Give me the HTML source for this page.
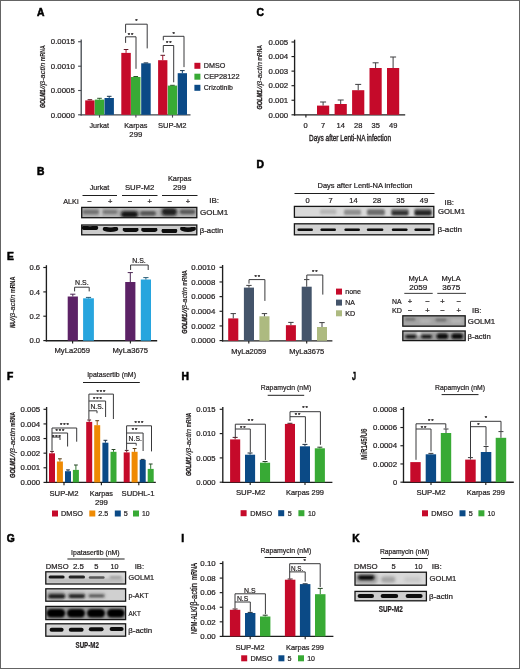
<!DOCTYPE html>
<html lang="en"><head><meta charset="utf-8"><title>Figure</title>
<style>
html,body{margin:0;padding:0;background:#fff;}
body{width:520px;height:669px;overflow:hidden;}
svg{display:block;font-family:"Liberation Sans", sans-serif;fill:#231f20;}
text{stroke:#231f20;stroke-width:0.22px;}
</style></head><body>
<svg width="520" height="669" viewBox="0 0 520 669">
<defs>
<clipPath id="c1"><rect x="81.70" y="207.40" width="115.10" height="10.30"/></clipPath>
<clipPath id="c2"><rect x="81.70" y="225.00" width="115.10" height="9.80"/></clipPath>
<clipPath id="c3"><rect x="294.40" y="206.40" width="139.40" height="10.90"/></clipPath>
<clipPath id="c4"><rect x="294.40" y="223.80" width="139.40" height="11.00"/></clipPath>
<clipPath id="c5"><rect x="402.80" y="315.80" width="62.40" height="10.40"/></clipPath>
<clipPath id="c6"><rect x="402.80" y="331.00" width="62.40" height="9.60"/></clipPath>
<clipPath id="c7"><rect x="45.80" y="571.80" width="79.80" height="12.20"/></clipPath>
<clipPath id="c8"><rect x="45.80" y="588.80" width="79.80" height="12.40"/></clipPath>
<clipPath id="c9"><rect x="45.80" y="606.40" width="79.80" height="13.20"/></clipPath>
<clipPath id="c10"><rect x="45.80" y="623.80" width="79.80" height="12.40"/></clipPath>
<clipPath id="c11"><rect x="355.00" y="572.20" width="71.40" height="13.00"/></clipPath>
<clipPath id="c12"><rect x="355.00" y="591.40" width="71.40" height="9.40"/></clipPath>
<filter id="b1" x="-40%" y="-150%" width="180%" height="400%"><feGaussianBlur stdDeviation="0.9"/></filter>
<filter id="b2" x="-40%" y="-150%" width="180%" height="400%"><feGaussianBlur stdDeviation="1.6"/></filter>
<filter id="b0" x="-40%" y="-150%" width="180%" height="400%"><feGaussianBlur stdDeviation="0.55"/></filter>
<filter id="b3" x="-40%" y="-150%" width="180%" height="400%"><feGaussianBlur stdDeviation="2.6"/></filter>
</defs>
<rect x="0" y="0" width="520" height="669" fill="#ffffff"/>
<text x="37.10" y="15.60" font-size="10.3" font-weight="bold" fill="#000" style="stroke:#000;stroke-width:0.55px">A</text>
<text x="256.40" y="15.80" font-size="10.3" font-weight="bold" fill="#000" style="stroke:#000;stroke-width:0.55px">C</text>
<text x="37.10" y="174.50" font-size="10.3" font-weight="bold" fill="#000" style="stroke:#000;stroke-width:0.55px">B</text>
<text x="256.40" y="167.70" font-size="10.3" font-weight="bold" fill="#000" style="stroke:#000;stroke-width:0.55px">D</text>
<text x="7.00" y="259.60" font-size="10.3" font-weight="bold" fill="#000" style="stroke:#000;stroke-width:0.55px">E</text>
<text x="7.00" y="380.00" font-size="10.3" font-weight="bold" fill="#000" style="stroke:#000;stroke-width:0.55px">F</text>
<text x="6.80" y="542.40" font-size="10.3" font-weight="bold" fill="#000" style="stroke:#000;stroke-width:0.55px">G</text>
<text x="181.40" y="380.00" font-size="10.3" font-weight="bold" fill="#000" style="stroke:#000;stroke-width:0.55px">H</text>
<text x="181.20" y="542.40" font-size="10.3" font-weight="bold" fill="#000" style="stroke:#000;stroke-width:0.55px">I</text>
<text x="351.90" y="379.80" font-size="10.3" textLength="4.00" lengthAdjust="spacingAndGlyphs" font-weight="bold" fill="#000" style="stroke:#000;stroke-width:0.45px">J</text>
<text x="352.20" y="542.40" font-size="10.3" font-weight="bold" fill="#000" style="stroke:#000;stroke-width:0.55px">K</text>
<path d="M81.20 39.45V115.45" stroke="#42474d" stroke-width="1.3" fill="none"/>
<path d="M80.55 114.80H190.50" stroke="#42474d" stroke-width="1.3" fill="none"/>
<path d="M78.10 41.75H81.20" stroke="#42474d" stroke-width="1.105" fill="none"/>
<text x="74.80" y="44.45" font-size="7.5" text-anchor="end" textLength="24.00" lengthAdjust="spacingAndGlyphs">0.0015</text>
<path d="M78.10 66.20H81.20" stroke="#42474d" stroke-width="1.105" fill="none"/>
<text x="74.80" y="68.90" font-size="7.5" text-anchor="end" textLength="24.00" lengthAdjust="spacingAndGlyphs">0.0010</text>
<path d="M78.10 90.50H81.20" stroke="#42474d" stroke-width="1.105" fill="none"/>
<text x="74.80" y="93.20" font-size="7.5" text-anchor="end" textLength="24.00" lengthAdjust="spacingAndGlyphs">0.0005</text>
<path d="M78.10 114.80H81.20" stroke="#42474d" stroke-width="1.105" fill="none"/>
<text x="74.80" y="117.50" font-size="7.5" text-anchor="end" textLength="24.00" lengthAdjust="spacingAndGlyphs">0.0000</text>
<path d="M99.50 114.80V117.60" stroke="#42474d" stroke-width="1.105" fill="none"/>
<path d="M135.90 114.80V117.60" stroke="#42474d" stroke-width="1.105" fill="none"/>
<path d="M172.50 114.80V117.60" stroke="#42474d" stroke-width="1.105" fill="none"/>
<text x="44.80" y="108.00" font-size="8.0" textLength="18.30" lengthAdjust="spacingAndGlyphs" transform="rotate(-90 44.80 108.00)" font-weight="bold" font-style="italic" style="stroke-width:0.4px">GOLM1</text>
<text x="44.80" y="89.30" font-size="8.0" textLength="26.70" lengthAdjust="spacingAndGlyphs" transform="rotate(-90 44.80 89.30)" font-style="italic" style="stroke-width:0.2px">//β-actin</text>
<text x="44.80" y="61.00" font-size="8.0" textLength="15.60" lengthAdjust="spacingAndGlyphs" transform="rotate(-90 44.80 61.00)" font-weight="bold" style="stroke-width:0.1px">mRNA</text>
<rect x="85.20" y="100.40" width="9.40" height="14.40" fill="#c50a2a"/>
<path d="M89.90 100.40V99.70" stroke="#ac0d28" stroke-width="1.0" fill="none"/>
<path d="M87.60 99.70H92.20" stroke="#631825" stroke-width="1.0" fill="none"/>
<rect x="94.80" y="99.60" width="9.40" height="15.20" fill="#38aa35"/>
<path d="M99.50 99.60V98.30" stroke="#349532" stroke-width="1.0" fill="none"/>
<path d="M97.20 98.30H101.80" stroke="#2a5829" stroke-width="1.0" fill="none"/>
<rect x="104.50" y="98.00" width="9.40" height="16.80" fill="#0b4a86"/>
<path d="M109.20 98.00V96.30" stroke="#0e4476" stroke-width="1.0" fill="none"/>
<path d="M106.90 96.30H111.50" stroke="#18324a" stroke-width="1.0" fill="none"/>
<rect x="121.30" y="52.90" width="9.50" height="61.90" fill="#c50a2a"/>
<path d="M126.05 52.90V49.50" stroke="#ac0d28" stroke-width="1.0" fill="none"/>
<path d="M123.75 49.50H128.35" stroke="#631825" stroke-width="1.0" fill="none"/>
<rect x="131.00" y="77.00" width="9.50" height="37.80" fill="#38aa35"/>
<path d="M135.75 77.00V76.50" stroke="#349532" stroke-width="1.0" fill="none"/>
<path d="M133.45 76.50H138.05" stroke="#2a5829" stroke-width="1.0" fill="none"/>
<rect x="141.20" y="63.30" width="9.50" height="51.50" fill="#0b4a86"/>
<path d="M145.95 63.30V62.90" stroke="#0e4476" stroke-width="1.0" fill="none"/>
<path d="M143.65 62.90H148.25" stroke="#18324a" stroke-width="1.0" fill="none"/>
<rect x="158.10" y="60.20" width="9.30" height="54.60" fill="#c50a2a"/>
<path d="M162.75 60.20V55.30" stroke="#ac0d28" stroke-width="1.0" fill="none"/>
<path d="M160.45 55.30H165.05" stroke="#631825" stroke-width="1.0" fill="none"/>
<rect x="167.80" y="85.60" width="9.30" height="29.20" fill="#38aa35"/>
<path d="M172.45 85.60V85.30" stroke="#349532" stroke-width="1.0" fill="none"/>
<path d="M170.15 85.30H174.75" stroke="#2a5829" stroke-width="1.0" fill="none"/>
<rect x="177.70" y="73.20" width="9.30" height="41.60" fill="#0b4a86"/>
<path d="M182.35 73.20V70.60" stroke="#0e4476" stroke-width="1.0" fill="none"/>
<path d="M180.05 70.60H184.65" stroke="#18324a" stroke-width="1.0" fill="none"/>
<path d="M125.60 32.80V24.20H147.20V48.40" stroke="#38383a" stroke-width="1.0" fill="none"/>
<path d="M125.60 42.90V36.80H136.00V68.80" stroke="#38383a" stroke-width="1.0" fill="none"/>
<path d="M163.30 40.30V36.30H184.00V67.10" stroke="#38383a" stroke-width="1.0" fill="none"/>
<path d="M163.30 52.40V45.50H173.70V82.30" stroke="#38383a" stroke-width="1.0" fill="none"/>
<text x="136.75" y="22.61" font-size="6.0" text-anchor="middle" style="stroke-width:0.25px;letter-spacing:0.9px">*</text>
<text x="131.05" y="36.91" font-size="6.0" text-anchor="middle" style="stroke-width:0.25px;letter-spacing:0.9px">**</text>
<text x="174.15" y="35.71" font-size="6.0" text-anchor="middle" style="stroke-width:0.25px;letter-spacing:0.9px">*</text>
<text x="169.25" y="44.91" font-size="6.0" text-anchor="middle" style="stroke-width:0.25px;letter-spacing:0.9px">**</text>
<text x="99.20" y="128.10" font-size="7.5" text-anchor="middle" textLength="19.40" lengthAdjust="spacingAndGlyphs">Jurkat</text>
<text x="135.80" y="128.10" font-size="7.5" text-anchor="middle" textLength="23.20" lengthAdjust="spacingAndGlyphs">Karpas</text>
<text x="135.80" y="136.80" font-size="7.5" text-anchor="middle" textLength="13.00" lengthAdjust="spacingAndGlyphs">299</text>
<text x="172.20" y="128.10" font-size="7.5" text-anchor="middle" textLength="28.60" lengthAdjust="spacingAndGlyphs">SUP-M2</text>
<rect x="194.40" y="62.80" width="6.00" height="6.00" fill="#c50a2a"/>
<text x="203.80" y="68.35" font-size="7.5" textLength="21.60" lengthAdjust="spacingAndGlyphs">DMSO</text>
<rect x="194.40" y="73.70" width="6.00" height="6.00" fill="#38aa35"/>
<text x="203.80" y="79.25" font-size="7.5" textLength="35.70" lengthAdjust="spacingAndGlyphs">CEP28122</text>
<rect x="194.40" y="84.80" width="6.00" height="6.00" fill="#0b4a86"/>
<text x="203.80" y="90.35" font-size="7.5" textLength="29.00" lengthAdjust="spacingAndGlyphs">Crizotinib</text>
<path d="M294.60 39.70V115.47" stroke="#1e1e1e" stroke-width="1.35" fill="none"/>
<path d="M293.93 114.80H405.20" stroke="#1e1e1e" stroke-width="1.35" fill="none"/>
<path d="M291.50 42.00H294.60" stroke="#1e1e1e" stroke-width="1.1475" fill="none"/>
<text x="288.20" y="44.70" font-size="7.5" text-anchor="end" textLength="19.60" lengthAdjust="spacingAndGlyphs">0.005</text>
<path d="M291.50 56.56H294.60" stroke="#1e1e1e" stroke-width="1.1475" fill="none"/>
<text x="288.20" y="59.26" font-size="7.5" text-anchor="end" textLength="19.60" lengthAdjust="spacingAndGlyphs">0.004</text>
<path d="M291.50 71.12H294.60" stroke="#1e1e1e" stroke-width="1.1475" fill="none"/>
<text x="288.20" y="73.82" font-size="7.5" text-anchor="end" textLength="19.60" lengthAdjust="spacingAndGlyphs">0.003</text>
<path d="M291.50 85.68H294.60" stroke="#1e1e1e" stroke-width="1.1475" fill="none"/>
<text x="288.20" y="88.38" font-size="7.5" text-anchor="end" textLength="19.60" lengthAdjust="spacingAndGlyphs">0.002</text>
<path d="M291.50 100.24H294.60" stroke="#1e1e1e" stroke-width="1.1475" fill="none"/>
<text x="288.20" y="102.94" font-size="7.5" text-anchor="end" textLength="19.60" lengthAdjust="spacingAndGlyphs">0.001</text>
<path d="M291.50 114.80H294.60" stroke="#1e1e1e" stroke-width="1.1475" fill="none"/>
<text x="288.20" y="117.50" font-size="7.5" text-anchor="end" textLength="19.60" lengthAdjust="spacingAndGlyphs">0.000</text>
<path d="M305.90 114.80V117.60" stroke="#1e1e1e" stroke-width="1.1475" fill="none"/>
<text x="262.30" y="109.50" font-size="8.0" textLength="19.60" lengthAdjust="spacingAndGlyphs" transform="rotate(-90 262.30 109.50)" font-weight="bold" font-style="italic" style="stroke-width:0.4px">GOLM1</text>
<text x="262.30" y="89.40" font-size="8.0" textLength="27.30" lengthAdjust="spacingAndGlyphs" transform="rotate(-90 262.30 89.40)" font-style="italic" style="stroke-width:0.2px">//β-actin</text>
<text x="262.30" y="60.40" font-size="8.0" textLength="15.30" lengthAdjust="spacingAndGlyphs" transform="rotate(-90 262.30 60.40)" font-weight="bold" style="stroke-width:0.1px">mRNA</text>
<rect x="317.00" y="105.60" width="12.20" height="9.20" fill="#c50a2a"/>
<path d="M323.10 105.60V102.00" stroke="#3e3e40" stroke-width="1.0" fill="none"/>
<path d="M320.10 102.00H326.10" stroke="#3e3e40" stroke-width="1.0" fill="none"/>
<rect x="334.60" y="104.00" width="12.20" height="10.80" fill="#c50a2a"/>
<path d="M340.70 104.00V100.00" stroke="#3e3e40" stroke-width="1.0" fill="none"/>
<path d="M337.70 100.00H343.70" stroke="#3e3e40" stroke-width="1.0" fill="none"/>
<rect x="352.10" y="90.20" width="12.20" height="24.60" fill="#c50a2a"/>
<path d="M358.20 90.20V84.40" stroke="#3e3e40" stroke-width="1.0" fill="none"/>
<path d="M355.20 84.40H361.20" stroke="#3e3e40" stroke-width="1.0" fill="none"/>
<rect x="369.50" y="68.00" width="12.20" height="46.80" fill="#c50a2a"/>
<path d="M375.60 68.00V62.80" stroke="#3e3e40" stroke-width="1.0" fill="none"/>
<path d="M372.60 62.80H378.60" stroke="#3e3e40" stroke-width="1.0" fill="none"/>
<rect x="387.00" y="68.00" width="12.20" height="46.80" fill="#c50a2a"/>
<path d="M393.10 68.00V57.00" stroke="#3e3e40" stroke-width="1.0" fill="none"/>
<path d="M390.10 57.00H396.10" stroke="#3e3e40" stroke-width="1.0" fill="none"/>
<text x="305.70" y="127.60" font-size="7.5" text-anchor="middle">0</text>
<text x="323.20" y="127.60" font-size="7.5" text-anchor="middle">7</text>
<text x="340.70" y="127.60" font-size="7.5" text-anchor="middle">14</text>
<text x="358.20" y="127.60" font-size="7.5" text-anchor="middle">28</text>
<text x="375.70" y="127.60" font-size="7.5" text-anchor="middle">35</text>
<text x="393.20" y="127.60" font-size="7.5" text-anchor="middle">49</text>
<text x="350.00" y="141.00" font-size="8.7" text-anchor="middle" textLength="82.00" lengthAdjust="spacingAndGlyphs" style="stroke-width:0.38px">Days after Lenti-NA infection</text>
<text x="99.50" y="190.40" font-size="7.5" text-anchor="middle" textLength="19.40" lengthAdjust="spacingAndGlyphs">Jurkat</text>
<text x="139.60" y="190.40" font-size="7.5" text-anchor="middle" textLength="29.30" lengthAdjust="spacingAndGlyphs">SUP-M2</text>
<text x="179.70" y="181.40" font-size="7.5" text-anchor="middle" textLength="23.60" lengthAdjust="spacingAndGlyphs">Karpas</text>
<text x="179.50" y="190.40" font-size="7.5" text-anchor="middle" textLength="13.00" lengthAdjust="spacingAndGlyphs">299</text>
<path d="M82.50 195.50H117.00" stroke="#1e1e1e" stroke-width="1.0" fill="none"/>
<path d="M122.00 195.50H157.50" stroke="#1e1e1e" stroke-width="1.0" fill="none"/>
<path d="M162.00 195.50H197.50" stroke="#1e1e1e" stroke-width="1.0" fill="none"/>
<text x="63.20" y="203.60" font-size="7.5" textLength="15.30" lengthAdjust="spacingAndGlyphs">ALKi</text>
<text x="89.40" y="203.90" font-size="7.5" text-anchor="middle">−</text>
<text x="110.20" y="203.90" font-size="7.5" text-anchor="middle">+</text>
<text x="130.00" y="203.90" font-size="7.5" text-anchor="middle">−</text>
<text x="149.70" y="203.90" font-size="7.5" text-anchor="middle">+</text>
<text x="169.80" y="203.90" font-size="7.5" text-anchor="middle">−</text>
<text x="188.00" y="203.90" font-size="7.5" text-anchor="middle">+</text>
<text x="209.20" y="203.20" font-size="7.5" textLength="9.80" lengthAdjust="spacingAndGlyphs">IB:</text>
<text x="200.00" y="215.40" font-size="7.5" textLength="28.20" lengthAdjust="spacingAndGlyphs">GOLM1</text>
<text x="199.80" y="232.60" font-size="7.5" textLength="23.40" lengthAdjust="spacingAndGlyphs">β-actin</text>
<g clip-path="url(#c1)"><rect x="81.70" y="207.40" width="115.10" height="10.30" fill="#b3b3b3"/>
<rect x="118.00" y="207.40" width="42.00" height="2.00" rx="1.00" fill="#e6e6e6" opacity="0.5" filter="url(#b1)"/>
<rect x="99.60" y="206.50" width="2.20" height="12.00" rx="6.00" fill="#e0e0e0" opacity="0.6" filter="url(#b1)"/>
<rect x="82.60" y="209.80" width="16.40" height="4.40" rx="2.20" fill="#4a4a4a" opacity="0.62" filter="url(#b1)"/>
<rect x="102.60" y="209.90" width="15.00" height="4.20" rx="2.10" fill="#4a4a4a" opacity="0.55" filter="url(#b1)"/>
<rect x="120.00" y="210.10" width="19.00" height="7.00" rx="3.50" fill="#333" opacity="0.5" filter="url(#b2)"/>
<rect x="121.60" y="211.80" width="15.80" height="5.20" rx="2.60" fill="#141414" opacity="1" filter="url(#b1)"/>
<rect x="140.00" y="211.00" width="16.00" height="4.80" rx="2.40" fill="#333" opacity="0.72" filter="url(#b1)"/>
<rect x="160.50" y="208.00" width="17.50" height="9.00" rx="4.50" fill="#333" opacity="0.45" filter="url(#b2)"/>
<rect x="162.20" y="208.70" width="14.20" height="6.20" rx="3.10" fill="#1c1c1c" opacity="0.95" filter="url(#b1)"/>
<rect x="179.60" y="209.40" width="15.80" height="4.80" rx="2.40" fill="#383838" opacity="0.72" filter="url(#b1)"/>
</g>
<rect x="81.70" y="207.40" width="115.10" height="10.30" fill="none" stroke="#161616" stroke-width="1.3"/>
<g clip-path="url(#c2)"><rect x="81.70" y="225.00" width="115.10" height="9.80" fill="#cbcbcb"/>
<path d="M84.20 227.75Q90.00 229.55 95.80 227.75" stroke="#0c0c0c" stroke-width="4.70" stroke-linecap="round" fill="none" opacity="1.0" filter="url(#b0)"/>
<path d="M105.00 228.95Q110.50 230.75 116.00 228.95" stroke="#0c0c0c" stroke-width="4.50" stroke-linecap="round" fill="none" opacity="1.0" filter="url(#b0)"/>
<path d="M125.00 229.45Q130.60 231.25 136.20 229.45" stroke="#0c0c0c" stroke-width="4.70" stroke-linecap="round" fill="none" opacity="1.0" filter="url(#b0)"/>
<path d="M143.40 229.50Q149.30 231.10 155.20 229.50" stroke="#0c0c0c" stroke-width="4.50" stroke-linecap="round" fill="none" opacity="1.0" filter="url(#b0)"/>
<path d="M164.60 230.60Q169.40 232.20 174.20 230.60" stroke="#0c0c0c" stroke-width="6.00" stroke-linecap="round" fill="none" opacity="1.0" filter="url(#b0)"/>
<path d="M182.40 228.65Q188.00 230.85 193.60 228.65" stroke="#0c0c0c" stroke-width="4.70" stroke-linecap="round" fill="none" opacity="1.0" filter="url(#b0)"/>
</g>
<rect x="81.70" y="225.00" width="115.10" height="9.80" fill="none" stroke="#161616" stroke-width="1.3"/>
<text x="365.00" y="188.40" font-size="7.5" text-anchor="middle" textLength="95.00" lengthAdjust="spacingAndGlyphs">Days after Lenti-NA infection</text>
<path d="M294.50 193.50H434.50" stroke="#1e1e1e" stroke-width="1.0" fill="none"/>
<text x="307.50" y="202.60" font-size="7.5" text-anchor="middle">0</text>
<text x="330.50" y="202.60" font-size="7.5" text-anchor="middle">7</text>
<text x="353.50" y="202.60" font-size="7.5" text-anchor="middle">14</text>
<text x="377.00" y="202.60" font-size="7.5" text-anchor="middle">28</text>
<text x="400.50" y="202.60" font-size="7.5" text-anchor="middle">35</text>
<text x="424.00" y="202.60" font-size="7.5" text-anchor="middle">49</text>
<text x="444.50" y="205.20" font-size="7.5" textLength="9.50" lengthAdjust="spacingAndGlyphs">IB:</text>
<text x="438.00" y="214.40" font-size="7.5" textLength="27.00" lengthAdjust="spacingAndGlyphs">GOLM1</text>
<text x="437.50" y="231.80" font-size="7.5" textLength="24.50" lengthAdjust="spacingAndGlyphs">β-actin</text>
<g clip-path="url(#c3)"><rect x="294.40" y="206.40" width="139.40" height="10.90" fill="#d9d9d9"/>
<rect x="320.00" y="209.30" width="16.40" height="5.00" rx="1.50" fill="#555" opacity="0.26" filter="url(#b1)"/>
<rect x="344.00" y="209.40" width="17.00" height="5.60" rx="1.50" fill="#555" opacity="0.55" filter="url(#b1)"/>
<rect x="367.00" y="209.20" width="17.80" height="6.00" rx="1.50" fill="#484848" opacity="0.75" filter="url(#b1)"/>
<rect x="391.20" y="208.70" width="17.40" height="6.60" rx="1.50" fill="#444" opacity="0.7" filter="url(#b1)"/>
<rect x="392.00" y="211.30" width="16.00" height="3.80" rx="1.20" fill="#1a1a1a" opacity="0.8" filter="url(#b1)"/>
<rect x="414.40" y="208.60" width="17.20" height="6.80" rx="1.50" fill="#444" opacity="0.75" filter="url(#b1)"/>
<rect x="415.00" y="210.90" width="16.20" height="4.20" rx="1.20" fill="#141414" opacity="0.88" filter="url(#b1)"/>
</g>
<rect x="294.40" y="206.40" width="139.40" height="10.90" fill="none" stroke="#161616" stroke-width="1.3"/>
<g clip-path="url(#c4)"><rect x="294.40" y="223.80" width="139.40" height="11.00" fill="#d2d2d2"/>
<rect x="297.40" y="228.50" width="15.60" height="2.60" rx="1.30" fill="#0c0c0c" opacity="1" filter="url(#b0)"/>
<rect x="320.40" y="228.50" width="15.60" height="2.60" rx="1.30" fill="#0c0c0c" opacity="1" filter="url(#b0)"/>
<rect x="344.40" y="228.50" width="15.60" height="2.60" rx="1.30" fill="#0c0c0c" opacity="1" filter="url(#b0)"/>
<rect x="366.80" y="228.50" width="16.60" height="2.60" rx="1.30" fill="#0c0c0c" opacity="1" filter="url(#b0)"/>
<rect x="391.80" y="228.50" width="15.80" height="2.60" rx="1.30" fill="#0c0c0c" opacity="1" filter="url(#b0)"/>
<rect x="414.40" y="228.50" width="16.20" height="2.60" rx="1.30" fill="#0c0c0c" opacity="1" filter="url(#b0)"/>
</g>
<rect x="294.40" y="223.80" width="139.40" height="11.00" fill="none" stroke="#161616" stroke-width="1.3"/>
<path d="M46.40 265.20V341.38" stroke="#1e1e1e" stroke-width="1.35" fill="none"/>
<path d="M45.73 340.70H157.20" stroke="#1e1e1e" stroke-width="1.35" fill="none"/>
<path d="M43.30 267.50H46.40" stroke="#1e1e1e" stroke-width="1.1475" fill="none"/>
<text x="40.00" y="270.20" font-size="7.5" text-anchor="end" textLength="10.60" lengthAdjust="spacingAndGlyphs">0.6</text>
<path d="M43.30 291.90H46.40" stroke="#1e1e1e" stroke-width="1.1475" fill="none"/>
<text x="40.00" y="294.60" font-size="7.5" text-anchor="end" textLength="10.60" lengthAdjust="spacingAndGlyphs">0.4</text>
<path d="M43.30 316.20H46.40" stroke="#1e1e1e" stroke-width="1.1475" fill="none"/>
<text x="40.00" y="318.90" font-size="7.5" text-anchor="end" textLength="10.60" lengthAdjust="spacingAndGlyphs">0.2</text>
<path d="M43.30 340.60H46.40" stroke="#1e1e1e" stroke-width="1.1475" fill="none"/>
<text x="40.00" y="343.30" font-size="7.5" text-anchor="end" textLength="10.60" lengthAdjust="spacingAndGlyphs">0.0</text>
<path d="M72.60 340.70V343.50" stroke="#1e1e1e" stroke-width="1.1475" fill="none"/>
<path d="M130.40 340.70V343.50" stroke="#1e1e1e" stroke-width="1.1475" fill="none"/>
<text x="14.80" y="327.80" font-size="8.0" textLength="5.80" lengthAdjust="spacingAndGlyphs" transform="rotate(-90 14.80 327.80)" font-weight="bold" font-style="italic" style="stroke-width:0.4px">NA</text>
<text x="14.80" y="321.50" font-size="8.0" textLength="26.90" lengthAdjust="spacingAndGlyphs" transform="rotate(-90 14.80 321.50)" font-style="italic" style="stroke-width:0.2px">//β-actin</text>
<text x="14.80" y="293.00" font-size="8.0" textLength="16.30" lengthAdjust="spacingAndGlyphs" transform="rotate(-90 14.80 293.00)" font-weight="bold" style="stroke-width:0.1px">mRNA</text>
<rect x="67.70" y="296.50" width="10.20" height="44.20" fill="#5c2266"/>
<path d="M72.80 296.50V294.20" stroke="#4a2552" stroke-width="1.0" fill="none"/>
<path d="M70.20 294.20H75.40" stroke="#4a2552" stroke-width="1.0" fill="none"/>
<rect x="83.10" y="298.30" width="10.80" height="42.40" fill="#27a5de"/>
<path d="M88.50 298.30V297.40" stroke="#2a5f7a" stroke-width="1.0" fill="none"/>
<path d="M85.90 297.40H91.10" stroke="#2a5f7a" stroke-width="1.0" fill="none"/>
<rect x="125.20" y="282.00" width="10.20" height="58.70" fill="#5c2266"/>
<path d="M130.30 282.00V272.60" stroke="#4a2552" stroke-width="1.0" fill="none"/>
<path d="M127.70 272.60H132.90" stroke="#4a2552" stroke-width="1.0" fill="none"/>
<rect x="140.80" y="279.50" width="10.20" height="61.20" fill="#27a5de"/>
<path d="M145.90 279.50V277.60" stroke="#2a5f7a" stroke-width="1.0" fill="none"/>
<path d="M143.30 277.60H148.50" stroke="#2a5f7a" stroke-width="1.0" fill="none"/>
<path d="M74.60 291.40V287.20H89.20V291.40" stroke="#38383a" stroke-width="1.0" fill="none"/>
<path d="M130.60 270.00V265.00H148.20V270.00" stroke="#38383a" stroke-width="1.0" fill="none"/>
<text x="81.90" y="284.60" font-size="7.5" text-anchor="middle" textLength="13.60" lengthAdjust="spacingAndGlyphs">N.S.</text>
<text x="139.00" y="262.60" font-size="7.5" text-anchor="middle" textLength="13.60" lengthAdjust="spacingAndGlyphs">N.S.</text>
<text x="72.30" y="353.40" font-size="7.5" text-anchor="middle" textLength="35.60" lengthAdjust="spacingAndGlyphs">MyLa2059</text>
<text x="130.30" y="353.40" font-size="7.5" text-anchor="middle" textLength="35.60" lengthAdjust="spacingAndGlyphs">MyLa3675</text>
<path d="M222.60 265.00V341.48" stroke="#1e1e1e" stroke-width="1.35" fill="none"/>
<path d="M221.92 340.80H332.40" stroke="#1e1e1e" stroke-width="1.35" fill="none"/>
<path d="M219.50 267.30H222.60" stroke="#1e1e1e" stroke-width="1.1475" fill="none"/>
<text x="215.30" y="270.00" font-size="7.5" text-anchor="end" textLength="24.00" lengthAdjust="spacingAndGlyphs">0.0010</text>
<path d="M219.50 281.96H222.60" stroke="#1e1e1e" stroke-width="1.1475" fill="none"/>
<text x="215.30" y="284.66" font-size="7.5" text-anchor="end" textLength="24.00" lengthAdjust="spacingAndGlyphs">0.0008</text>
<path d="M219.50 296.62H222.60" stroke="#1e1e1e" stroke-width="1.1475" fill="none"/>
<text x="215.30" y="299.32" font-size="7.5" text-anchor="end" textLength="24.00" lengthAdjust="spacingAndGlyphs">0.0006</text>
<path d="M219.50 311.28H222.60" stroke="#1e1e1e" stroke-width="1.1475" fill="none"/>
<text x="215.30" y="313.98" font-size="7.5" text-anchor="end" textLength="24.00" lengthAdjust="spacingAndGlyphs">0.0004</text>
<path d="M219.50 325.94H222.60" stroke="#1e1e1e" stroke-width="1.1475" fill="none"/>
<text x="215.30" y="328.64" font-size="7.5" text-anchor="end" textLength="24.00" lengthAdjust="spacingAndGlyphs">0.0002</text>
<path d="M219.50 340.60H222.60" stroke="#1e1e1e" stroke-width="1.1475" fill="none"/>
<text x="215.30" y="343.30" font-size="7.5" text-anchor="end" textLength="24.00" lengthAdjust="spacingAndGlyphs">0.0000</text>
<path d="M248.80 340.80V343.60" stroke="#1e1e1e" stroke-width="1.1475" fill="none"/>
<path d="M306.70 340.80V343.60" stroke="#1e1e1e" stroke-width="1.1475" fill="none"/>
<text x="187.10" y="333.70" font-size="8.0" textLength="19.80" lengthAdjust="spacingAndGlyphs" transform="rotate(-90 187.10 333.70)" font-weight="bold" font-style="italic" style="stroke-width:0.4px">GOLM1</text>
<text x="187.10" y="313.40" font-size="8.0" textLength="26.20" lengthAdjust="spacingAndGlyphs" transform="rotate(-90 187.10 313.40)" font-style="italic" style="stroke-width:0.2px">//β-actin</text>
<text x="187.10" y="285.50" font-size="8.0" textLength="15.20" lengthAdjust="spacingAndGlyphs" transform="rotate(-90 187.10 285.50)" font-weight="bold" style="stroke-width:0.1px">mRNA</text>
<rect x="228.20" y="318.40" width="10.10" height="22.40" fill="#c50a2a"/>
<path d="M233.25 318.40V313.60" stroke="#3e3e40" stroke-width="1.0" fill="none"/>
<path d="M230.55 313.60H235.95" stroke="#3e3e40" stroke-width="1.0" fill="none"/>
<rect x="243.90" y="287.60" width="10.10" height="53.20" fill="#44546a"/>
<path d="M248.95 287.60V285.40" stroke="#3e3e40" stroke-width="1.0" fill="none"/>
<path d="M246.25 285.40H251.65" stroke="#3e3e40" stroke-width="1.0" fill="none"/>
<rect x="259.40" y="316.30" width="10.10" height="24.50" fill="#adba80"/>
<path d="M264.45 316.30V313.60" stroke="#3e3e40" stroke-width="1.0" fill="none"/>
<path d="M261.75 313.60H267.15" stroke="#3e3e40" stroke-width="1.0" fill="none"/>
<rect x="285.90" y="325.20" width="10.00" height="15.60" fill="#c50a2a"/>
<path d="M290.90 325.20V322.40" stroke="#3e3e40" stroke-width="1.0" fill="none"/>
<path d="M288.20 322.40H293.60" stroke="#3e3e40" stroke-width="1.0" fill="none"/>
<rect x="301.70" y="286.70" width="10.00" height="54.10" fill="#44546a"/>
<path d="M306.70 286.70V279.60" stroke="#3e3e40" stroke-width="1.0" fill="none"/>
<path d="M304.00 279.60H309.40" stroke="#3e3e40" stroke-width="1.0" fill="none"/>
<rect x="317.00" y="327.00" width="10.00" height="13.80" fill="#adba80"/>
<path d="M322.00 327.00V322.60" stroke="#3e3e40" stroke-width="1.0" fill="none"/>
<path d="M319.30 322.60H324.70" stroke="#3e3e40" stroke-width="1.0" fill="none"/>
<path d="M249.00 283.60V279.60H264.90V300.90" stroke="#38383a" stroke-width="1.0" fill="none"/>
<path d="M306.80 279.00V275.00H322.80V294.60" stroke="#38383a" stroke-width="1.0" fill="none"/>
<text x="257.65" y="278.51" font-size="6.0" text-anchor="middle" style="stroke-width:0.25px;letter-spacing:0.9px">**</text>
<text x="315.25" y="273.91" font-size="6.0" text-anchor="middle" style="stroke-width:0.25px;letter-spacing:0.9px">**</text>
<text x="248.80" y="354.20" font-size="7.5" text-anchor="middle" textLength="35.00" lengthAdjust="spacingAndGlyphs">MyLa2059</text>
<text x="306.80" y="354.20" font-size="7.5" text-anchor="middle" textLength="35.00" lengthAdjust="spacingAndGlyphs">MyLa3675</text>
<rect x="336.00" y="288.60" width="6.00" height="6.00" fill="#c50a2a"/>
<text x="345.20" y="294.15" font-size="7.5" textLength="15.80" lengthAdjust="spacingAndGlyphs">none</text>
<rect x="336.00" y="299.60" width="6.00" height="6.00" fill="#44546a"/>
<text x="345.20" y="305.15" font-size="7.5" textLength="9.60" lengthAdjust="spacingAndGlyphs">NA</text>
<rect x="336.00" y="310.30" width="6.00" height="6.00" fill="#adba80"/>
<text x="345.20" y="315.85" font-size="7.5" textLength="10.00" lengthAdjust="spacingAndGlyphs">KD</text>
<text x="418.20" y="281.00" font-size="7.5" text-anchor="middle" textLength="19.20" lengthAdjust="spacingAndGlyphs">MyLA</text>
<text x="418.20" y="290.20" font-size="7.5" text-anchor="middle" textLength="18.00" lengthAdjust="spacingAndGlyphs">2059</text>
<text x="451.20" y="281.00" font-size="7.5" text-anchor="middle" textLength="19.20" lengthAdjust="spacingAndGlyphs">MyLA</text>
<text x="451.20" y="290.20" font-size="7.5" text-anchor="middle" textLength="18.00" lengthAdjust="spacingAndGlyphs">3675</text>
<path d="M404.30 293.40H432.70" stroke="#4a4a4a" stroke-width="1.1" fill="none"/>
<path d="M437.30 293.40H466.00" stroke="#4a4a4a" stroke-width="1.1" fill="none"/>
<text x="392.00" y="303.60" font-size="7.5" textLength="9.60" lengthAdjust="spacingAndGlyphs">NA</text>
<text x="392.00" y="313.00" font-size="7.5" textLength="10.00" lengthAdjust="spacingAndGlyphs">KD</text>
<text x="410.00" y="303.60" font-size="7.5" text-anchor="middle">+</text>
<text x="410.00" y="313.00" font-size="7.5" text-anchor="middle">−</text>
<text x="427.40" y="303.60" font-size="7.5" text-anchor="middle">−</text>
<text x="427.40" y="313.00" font-size="7.5" text-anchor="middle">+</text>
<text x="442.40" y="303.60" font-size="7.5" text-anchor="middle">+</text>
<text x="442.40" y="313.00" font-size="7.5" text-anchor="middle">−</text>
<text x="458.80" y="303.60" font-size="7.5" text-anchor="middle">−</text>
<text x="458.80" y="313.00" font-size="7.5" text-anchor="middle">+</text>
<text x="472.00" y="313.00" font-size="7.5" textLength="9.50" lengthAdjust="spacingAndGlyphs">IB:</text>
<text x="467.80" y="323.60" font-size="7.5" textLength="27.40" lengthAdjust="spacingAndGlyphs">GOLM1</text>
<text x="467.60" y="339.00" font-size="7.5" textLength="23.20" lengthAdjust="spacingAndGlyphs">β-actin</text>
<g clip-path="url(#c5)"><rect x="402.80" y="315.80" width="62.40" height="10.40" fill="#a5a5a5"/>
<rect x="405.00" y="317.90" width="10.40" height="2.60" rx="1.30" fill="#333" opacity="0.5" filter="url(#b1)"/>
<rect x="435.40" y="318.60" width="11.20" height="2.80" rx="1.40" fill="#333" opacity="0.45" filter="url(#b1)"/>
<rect x="419.50" y="319.00" width="11.50" height="4.00" rx="2.00" fill="#ddd" opacity="0.3" filter="url(#b2)"/>
<rect x="450.50" y="319.00" width="12.50" height="4.00" rx="2.00" fill="#ddd" opacity="0.35" filter="url(#b2)"/>
</g>
<rect x="402.80" y="315.80" width="62.40" height="10.40" fill="none" stroke="#161616" stroke-width="1.3"/>
<g clip-path="url(#c6)"><rect x="402.80" y="331.00" width="62.40" height="9.60" fill="#9c9c9c"/>
<rect x="416.50" y="331.60" width="4.50" height="4.00" rx="2.00" fill="#eee" opacity="0.8" filter="url(#b1)"/>
<rect x="403.00" y="331.20" width="63.00" height="1.60" rx="0.80" fill="#ddd" opacity="0.5" filter="url(#b1)"/>
<rect x="405.40" y="334.90" width="11.00" height="3.40" rx="1.70" fill="#0c0c0c" opacity="1" filter="url(#b1)"/>
<rect x="421.20" y="335.00" width="10.80" height="3.20" rx="1.60" fill="#0c0c0c" opacity="1" filter="url(#b1)"/>
<rect x="436.60" y="333.40" width="11.60" height="5.60" rx="2.80" fill="#0c0c0c" opacity="1" filter="url(#b1)"/>
<rect x="451.40" y="333.40" width="11.60" height="5.60" rx="2.80" fill="#0c0c0c" opacity="1" filter="url(#b1)"/>
</g>
<rect x="402.80" y="331.00" width="62.40" height="9.60" fill="none" stroke="#161616" stroke-width="1.3"/>
<path d="M46.60 407.00V483.07" stroke="#1e1e1e" stroke-width="1.35" fill="none"/>
<path d="M45.93 482.40H155.80" stroke="#1e1e1e" stroke-width="1.35" fill="none"/>
<path d="M43.50 409.30H46.60" stroke="#1e1e1e" stroke-width="1.1475" fill="none"/>
<text x="40.20" y="412.00" font-size="7.5" text-anchor="end" textLength="19.60" lengthAdjust="spacingAndGlyphs">0.005</text>
<path d="M43.50 423.92H46.60" stroke="#1e1e1e" stroke-width="1.1475" fill="none"/>
<text x="40.20" y="426.62" font-size="7.5" text-anchor="end" textLength="19.60" lengthAdjust="spacingAndGlyphs">0.004</text>
<path d="M43.50 438.54H46.60" stroke="#1e1e1e" stroke-width="1.1475" fill="none"/>
<text x="40.20" y="441.24" font-size="7.5" text-anchor="end" textLength="19.60" lengthAdjust="spacingAndGlyphs">0.003</text>
<path d="M43.50 453.16H46.60" stroke="#1e1e1e" stroke-width="1.1475" fill="none"/>
<text x="40.20" y="455.86" font-size="7.5" text-anchor="end" textLength="19.60" lengthAdjust="spacingAndGlyphs">0.002</text>
<path d="M43.50 467.78H46.60" stroke="#1e1e1e" stroke-width="1.1475" fill="none"/>
<text x="40.20" y="470.48" font-size="7.5" text-anchor="end" textLength="19.60" lengthAdjust="spacingAndGlyphs">0.001</text>
<path d="M43.50 482.40H46.60" stroke="#1e1e1e" stroke-width="1.1475" fill="none"/>
<text x="40.20" y="485.10" font-size="7.5" text-anchor="end" textLength="19.60" lengthAdjust="spacingAndGlyphs">0.000</text>
<path d="M64.00 482.40V485.20" stroke="#1e1e1e" stroke-width="1.1475" fill="none"/>
<path d="M101.40 482.40V485.20" stroke="#1e1e1e" stroke-width="1.1475" fill="none"/>
<path d="M138.80 482.40V485.20" stroke="#1e1e1e" stroke-width="1.1475" fill="none"/>
<text x="14.80" y="477.90" font-size="8.0" textLength="19.90" lengthAdjust="spacingAndGlyphs" transform="rotate(-90 14.80 477.90)" font-weight="bold" font-style="italic" style="stroke-width:0.4px">GOLM1</text>
<text x="14.80" y="457.40" font-size="8.0" textLength="29.50" lengthAdjust="spacingAndGlyphs" transform="rotate(-90 14.80 457.40)" font-style="italic" style="stroke-width:0.2px">//β-actin</text>
<text x="14.80" y="426.80" font-size="8.0" textLength="14.80" lengthAdjust="spacingAndGlyphs" transform="rotate(-90 14.80 426.80)" font-weight="bold" style="stroke-width:0.1px">mRNA</text>
<rect x="49.00" y="453.30" width="6.00" height="29.10" fill="#c50a2a"/>
<path d="M52.00 453.30V451.40" stroke="#87162a" stroke-width="1.0" fill="none"/>
<path d="M50.10 451.40H53.90" stroke="#4a1c24" stroke-width="1.0" fill="none"/>
<rect x="56.90" y="461.50" width="6.00" height="20.90" fill="#ef8a03"/>
<path d="M59.90 461.50V458.80" stroke="#a06312" stroke-width="1.0" fill="none"/>
<path d="M58.00 458.80H61.80" stroke="#553c1a" stroke-width="1.0" fill="none"/>
<rect x="65.00" y="471.20" width="6.00" height="11.20" fill="#0b4a86"/>
<path d="M68.00 471.20V469.90" stroke="#173d61" stroke-width="1.0" fill="none"/>
<path d="M66.10 469.90H69.90" stroke="#1c2c3b" stroke-width="1.0" fill="none"/>
<rect x="72.90" y="469.90" width="6.00" height="12.50" fill="#38aa35"/>
<path d="M75.90 469.90V465.00" stroke="#327630" stroke-width="1.0" fill="none"/>
<path d="M74.00 465.00H77.80" stroke="#274426" stroke-width="1.0" fill="none"/>
<rect x="86.20" y="421.90" width="6.00" height="60.50" fill="#c50a2a"/>
<path d="M89.20 421.90V420.00" stroke="#87162a" stroke-width="1.0" fill="none"/>
<path d="M87.30 420.00H91.10" stroke="#4a1c24" stroke-width="1.0" fill="none"/>
<rect x="94.20" y="425.20" width="6.00" height="57.20" fill="#ef8a03"/>
<path d="M97.20 425.20V420.70" stroke="#a06312" stroke-width="1.0" fill="none"/>
<path d="M95.30 420.70H99.10" stroke="#553c1a" stroke-width="1.0" fill="none"/>
<rect x="102.40" y="442.70" width="6.00" height="39.70" fill="#0b4a86"/>
<path d="M105.40 442.70V440.30" stroke="#173d61" stroke-width="1.0" fill="none"/>
<path d="M103.50 440.30H107.30" stroke="#1c2c3b" stroke-width="1.0" fill="none"/>
<rect x="110.50" y="451.80" width="6.00" height="30.60" fill="#38aa35"/>
<path d="M113.50 451.80V449.50" stroke="#327630" stroke-width="1.0" fill="none"/>
<path d="M111.60 449.50H115.40" stroke="#274426" stroke-width="1.0" fill="none"/>
<rect x="123.70" y="452.40" width="6.00" height="30.00" fill="#c50a2a"/>
<path d="M126.70 452.40V450.40" stroke="#87162a" stroke-width="1.0" fill="none"/>
<path d="M124.80 450.40H128.60" stroke="#4a1c24" stroke-width="1.0" fill="none"/>
<rect x="131.60" y="451.80" width="6.00" height="30.60" fill="#ef8a03"/>
<path d="M134.60 451.80V448.50" stroke="#a06312" stroke-width="1.0" fill="none"/>
<path d="M132.70 448.50H136.50" stroke="#553c1a" stroke-width="1.0" fill="none"/>
<rect x="139.70" y="459.80" width="6.00" height="22.60" fill="#0b4a86"/>
<path d="M142.70 459.80V459.40" stroke="#173d61" stroke-width="1.0" fill="none"/>
<path d="M140.80 459.40H144.60" stroke="#1c2c3b" stroke-width="1.0" fill="none"/>
<rect x="147.70" y="468.90" width="6.00" height="13.50" fill="#38aa35"/>
<path d="M150.70 468.90V464.00" stroke="#327630" stroke-width="1.0" fill="none"/>
<path d="M148.80 464.00H152.60" stroke="#274426" stroke-width="1.0" fill="none"/>
<path d="M52.00 450.60V428.00H76.70V441.70" stroke="#38383a" stroke-width="1.0" fill="none"/>
<path d="M52.00 433.00H67.60V446.50" stroke="#38383a" stroke-width="1.0" fill="none"/>
<path d="M52.00 437.10H60.00V440.00" stroke="#38383a" stroke-width="1.0" fill="none"/>
<path d="M88.90 419.60V394.10H113.40V419.00" stroke="#38383a" stroke-width="1.0" fill="none"/>
<path d="M88.90 401.00H105.60V417.00" stroke="#38383a" stroke-width="1.0" fill="none"/>
<path d="M88.90 410.80H97.00V413.20" stroke="#38383a" stroke-width="1.0" fill="none"/>
<path d="M126.60 449.80V425.80H151.50V451.40" stroke="#38383a" stroke-width="1.0" fill="none"/>
<path d="M126.60 433.00H143.10V451.00" stroke="#38383a" stroke-width="1.0" fill="none"/>
<path d="M126.60 443.30H136.20V445.60" stroke="#38383a" stroke-width="1.0" fill="none"/>
<text x="64.95" y="426.81" font-size="6.0" text-anchor="middle" style="stroke-width:0.25px;letter-spacing:0.9px">***</text>
<text x="60.45" y="433.31" font-size="6.0" text-anchor="middle" style="stroke-width:0.25px;letter-spacing:0.9px">***</text>
<text x="56.95" y="438.61" font-size="6.0" text-anchor="middle" style="stroke-width:0.25px;letter-spacing:0.9px">***</text>
<text x="101.45" y="393.81" font-size="6.0" text-anchor="middle" style="stroke-width:0.25px;letter-spacing:0.9px">***</text>
<text x="97.85" y="400.91" font-size="6.0" text-anchor="middle" style="stroke-width:0.25px;letter-spacing:0.9px">***</text>
<text x="97.00" y="409.00" font-size="7.5" text-anchor="middle" textLength="13.20" lengthAdjust="spacingAndGlyphs">N.S.</text>
<text x="139.45" y="425.21" font-size="6.0" text-anchor="middle" style="stroke-width:0.25px;letter-spacing:0.9px">***</text>
<text x="135.05" y="432.31" font-size="6.0" text-anchor="middle" style="stroke-width:0.25px;letter-spacing:0.9px">**</text>
<text x="135.20" y="441.20" font-size="7.5" text-anchor="middle" textLength="13.20" lengthAdjust="spacingAndGlyphs">N.S.</text>
<text x="111.60" y="377.20" font-size="7.5" text-anchor="middle" textLength="48.80" lengthAdjust="spacingAndGlyphs">Ipatasertib (nM)</text>
<path d="M83.00 382.50H139.80" stroke="#1e1e1e" stroke-width="1.0" fill="none"/>
<text x="64.00" y="495.90" font-size="7.5" text-anchor="middle" textLength="29.00" lengthAdjust="spacingAndGlyphs">SUP-M2</text>
<text x="101.40" y="495.90" font-size="7.5" text-anchor="middle" textLength="23.20" lengthAdjust="spacingAndGlyphs">Karpas</text>
<text x="101.40" y="504.60" font-size="7.5" text-anchor="middle" textLength="13.00" lengthAdjust="spacingAndGlyphs">299</text>
<text x="138.00" y="495.90" font-size="7.5" text-anchor="middle" textLength="32.80" lengthAdjust="spacingAndGlyphs">SUDHL-1</text>
<rect x="52.00" y="510.50" width="6.00" height="6.00" fill="#c50a2a"/>
<text x="61.00" y="516.10" font-size="7.5" textLength="22.00" lengthAdjust="spacingAndGlyphs">DMSO</text>
<rect x="89.30" y="510.50" width="6.00" height="6.00" fill="#ef8a03"/>
<text x="98.30" y="516.10" font-size="7.5" textLength="10.00" lengthAdjust="spacingAndGlyphs">2.5</text>
<rect x="114.80" y="510.50" width="6.00" height="6.00" fill="#0b4a86"/>
<text x="123.80" y="516.10" font-size="7.5" textLength="4.00" lengthAdjust="spacingAndGlyphs">5</text>
<rect x="133.00" y="510.50" width="6.00" height="6.00" fill="#38aa35"/>
<text x="142.00" y="516.10" font-size="7.5" textLength="7.60" lengthAdjust="spacingAndGlyphs">10</text>
<text x="95.40" y="554.60" font-size="7.5" text-anchor="middle" textLength="48.60" lengthAdjust="spacingAndGlyphs">Ipatasertib (nM)</text>
<path d="M67.40 559.00H124.60" stroke="#1e1e1e" stroke-width="1.0" fill="none"/>
<text x="45.80" y="569.20" font-size="7.5" textLength="22.80" lengthAdjust="spacingAndGlyphs">DMSO</text>
<text x="78.40" y="569.20" font-size="7.5" text-anchor="middle" textLength="11.00" lengthAdjust="spacingAndGlyphs">2.5</text>
<text x="96.40" y="569.20" font-size="7.5" text-anchor="middle">5</text>
<text x="114.50" y="569.20" font-size="7.5" text-anchor="middle" textLength="8.00" lengthAdjust="spacingAndGlyphs">10</text>
<text x="134.70" y="569.20" font-size="7.5" textLength="9.40" lengthAdjust="spacingAndGlyphs">IB:</text>
<text x="128.60" y="580.40" font-size="7.5" textLength="25.40" lengthAdjust="spacingAndGlyphs">GOLM1</text>
<text x="128.60" y="597.80" font-size="7.5" textLength="20.00" lengthAdjust="spacingAndGlyphs">p-AKT</text>
<text x="128.60" y="615.80" font-size="7.5" textLength="12.20" lengthAdjust="spacingAndGlyphs">AKT</text>
<text x="128.20" y="632.80" font-size="7.5" textLength="24.00" lengthAdjust="spacingAndGlyphs">β-actin</text>
<g clip-path="url(#c7)"><rect x="45.80" y="571.80" width="79.80" height="12.20" fill="#d9d9d9"/>
<rect x="47.00" y="578.40" width="77.00" height="4.40" rx="2.20" fill="#999" opacity="0.5" filter="url(#b2)"/>
<rect x="48.60" y="575.40" width="16.00" height="3.00" rx="1.50" fill="#161616" opacity="1" filter="url(#b0)"/>
<rect x="68.60" y="575.50" width="16.40" height="3.00" rx="1.50" fill="#1a1a1a" opacity="0.95" filter="url(#b0)"/>
<rect x="88.80" y="576.25" width="15.80" height="2.50" rx="1.25" fill="#333" opacity="0.75" filter="url(#b0)"/>
<rect x="109.60" y="576.10" width="12.00" height="2.40" rx="1.20" fill="#444" opacity="0.38" filter="url(#b1)"/>
</g>
<rect x="45.80" y="571.80" width="79.80" height="12.20" fill="none" stroke="#161616" stroke-width="1.3"/>
<g clip-path="url(#c8)"><rect x="45.80" y="588.80" width="79.80" height="12.40" fill="#d0d0d0"/>
<rect x="46.00" y="591.00" width="20.00" height="9.00" rx="4.50" fill="#777" opacity="0.5" filter="url(#b2)"/>
<rect x="66.00" y="591.50" width="20.00" height="8.00" rx="4.00" fill="#777" opacity="0.35" filter="url(#b2)"/>
<rect x="86.00" y="592.00" width="20.00" height="7.00" rx="3.50" fill="#777" opacity="0.2" filter="url(#b2)"/>
<rect x="48.40" y="594.30" width="16.60" height="4.00" rx="2.00" fill="#121212" opacity="1" filter="url(#b1)"/>
<rect x="68.60" y="594.30" width="16.40" height="3.60" rx="1.80" fill="#181818" opacity="0.95" filter="url(#b1)"/>
<rect x="88.80" y="594.50" width="15.60" height="2.80" rx="1.40" fill="#2a2a2a" opacity="0.75" filter="url(#b1)"/>
</g>
<rect x="45.80" y="588.80" width="79.80" height="12.40" fill="none" stroke="#161616" stroke-width="1.3"/>
<g clip-path="url(#c9)"><rect x="45.80" y="606.40" width="79.80" height="13.20" fill="#9a9a9a"/>
<rect x="46.60" y="609.10" width="18.60" height="8.40" rx="4.20" fill="#060606" opacity="1" filter="url(#b1)"/>
<rect x="67.00" y="609.10" width="18.00" height="8.40" rx="4.20" fill="#060606" opacity="1" filter="url(#b1)"/>
<rect x="87.00" y="609.10" width="18.00" height="8.40" rx="4.20" fill="#060606" opacity="1" filter="url(#b1)"/>
<rect x="107.00" y="609.10" width="17.60" height="8.40" rx="4.20" fill="#060606" opacity="1" filter="url(#b1)"/>
</g>
<rect x="45.80" y="606.40" width="79.80" height="13.20" fill="none" stroke="#161616" stroke-width="1.3"/>
<g clip-path="url(#c10)"><rect x="45.80" y="623.80" width="79.80" height="12.40" fill="#d4d4d4"/>
<rect x="49.60" y="627.80" width="14.00" height="4.00" rx="2.00" fill="#0c0c0c" opacity="1" filter="url(#b0)"/>
<rect x="68.80" y="627.80" width="14.80" height="4.00" rx="2.00" fill="#0c0c0c" opacity="1" filter="url(#b0)"/>
<rect x="88.80" y="627.30" width="14.80" height="4.00" rx="2.00" fill="#0c0c0c" opacity="1" filter="url(#b0)"/>
<rect x="109.60" y="627.10" width="14.00" height="4.00" rx="2.00" fill="#0c0c0c" opacity="1" filter="url(#b0)"/>
</g>
<rect x="45.80" y="623.80" width="79.80" height="12.40" fill="none" stroke="#161616" stroke-width="1.3"/>
<text x="87.20" y="648.20" font-size="9.0" text-anchor="middle" textLength="23.40" lengthAdjust="spacingAndGlyphs" font-weight="bold">SUP-M2</text>
<path d="M222.80 407.00V482.98" stroke="#1e1e1e" stroke-width="1.35" fill="none"/>
<path d="M222.12 482.30H332.40" stroke="#1e1e1e" stroke-width="1.35" fill="none"/>
<path d="M219.70 409.30H222.80" stroke="#1e1e1e" stroke-width="1.1475" fill="none"/>
<text x="215.50" y="412.00" font-size="7.5" text-anchor="end" textLength="19.20" lengthAdjust="spacingAndGlyphs">0.015</text>
<path d="M219.70 433.60H222.80" stroke="#1e1e1e" stroke-width="1.1475" fill="none"/>
<text x="215.50" y="436.30" font-size="7.5" text-anchor="end" textLength="19.20" lengthAdjust="spacingAndGlyphs">0.010</text>
<path d="M219.70 457.90H222.80" stroke="#1e1e1e" stroke-width="1.1475" fill="none"/>
<text x="215.50" y="460.60" font-size="7.5" text-anchor="end" textLength="19.20" lengthAdjust="spacingAndGlyphs">0.005</text>
<path d="M219.70 482.20H222.80" stroke="#1e1e1e" stroke-width="1.1475" fill="none"/>
<text x="215.50" y="484.90" font-size="7.5" text-anchor="end" textLength="19.20" lengthAdjust="spacingAndGlyphs">0.000</text>
<path d="M250.20 482.30V485.10" stroke="#1e1e1e" stroke-width="1.1475" fill="none"/>
<path d="M305.00 482.30V485.10" stroke="#1e1e1e" stroke-width="1.1475" fill="none"/>
<text x="191.00" y="476.10" font-size="8.0" textLength="19.20" lengthAdjust="spacingAndGlyphs" transform="rotate(-90 191.00 476.10)" font-weight="bold" font-style="italic" style="stroke-width:0.4px">GOLM1</text>
<text x="191.00" y="456.40" font-size="8.0" textLength="27.40" lengthAdjust="spacingAndGlyphs" transform="rotate(-90 191.00 456.40)" font-style="italic" style="stroke-width:0.2px">//β-actin</text>
<text x="191.00" y="427.30" font-size="8.0" textLength="14.60" lengthAdjust="spacingAndGlyphs" transform="rotate(-90 191.00 427.30)" font-weight="bold" style="stroke-width:0.1px">mRNA</text>
<rect x="230.10" y="439.40" width="10.10" height="42.90" fill="#c50a2a"/>
<path d="M235.15 439.40V437.40" stroke="#87162a" stroke-width="1.0" fill="none"/>
<path d="M232.65 437.40H237.65" stroke="#4a1c24" stroke-width="1.0" fill="none"/>
<rect x="245.00" y="454.70" width="10.10" height="27.60" fill="#0b4a86"/>
<path d="M250.05 454.70V453.00" stroke="#173d61" stroke-width="1.0" fill="none"/>
<path d="M247.55 453.00H252.55" stroke="#1c2c3b" stroke-width="1.0" fill="none"/>
<rect x="260.00" y="462.70" width="10.10" height="19.60" fill="#38aa35"/>
<path d="M265.05 462.70V461.50" stroke="#327630" stroke-width="1.0" fill="none"/>
<path d="M262.55 461.50H267.55" stroke="#274426" stroke-width="1.0" fill="none"/>
<rect x="284.90" y="423.90" width="10.10" height="58.40" fill="#c50a2a"/>
<path d="M289.95 423.90V423.30" stroke="#87162a" stroke-width="1.0" fill="none"/>
<path d="M287.45 423.30H292.45" stroke="#4a1c24" stroke-width="1.0" fill="none"/>
<rect x="299.90" y="446.30" width="10.10" height="36.00" fill="#0b4a86"/>
<path d="M304.95 446.30V444.40" stroke="#173d61" stroke-width="1.0" fill="none"/>
<path d="M302.45 444.40H307.45" stroke="#1c2c3b" stroke-width="1.0" fill="none"/>
<rect x="314.80" y="448.30" width="10.10" height="34.00" fill="#38aa35"/>
<path d="M319.85 448.30V447.20" stroke="#327630" stroke-width="1.0" fill="none"/>
<path d="M317.35 447.20H322.35" stroke="#274426" stroke-width="1.0" fill="none"/>
<path d="M235.30 437.00V424.20H265.40V460.00" stroke="#38383a" stroke-width="1.0" fill="none"/>
<path d="M235.30 429.00H250.30V452.40" stroke="#38383a" stroke-width="1.0" fill="none"/>
<path d="M290.00 421.00V411.70H320.40V444.80" stroke="#38383a" stroke-width="1.0" fill="none"/>
<path d="M290.00 416.70H305.40V442.60" stroke="#38383a" stroke-width="1.0" fill="none"/>
<text x="250.95" y="422.71" font-size="6.0" text-anchor="middle" style="stroke-width:0.25px;letter-spacing:0.9px">**</text>
<text x="243.25" y="429.51" font-size="6.0" text-anchor="middle" style="stroke-width:0.25px;letter-spacing:0.9px">**</text>
<text x="305.45" y="410.41" font-size="6.0" text-anchor="middle" style="stroke-width:0.25px;letter-spacing:0.9px">**</text>
<text x="298.05" y="416.61" font-size="6.0" text-anchor="middle" style="stroke-width:0.25px;letter-spacing:0.9px">**</text>
<text x="286.00" y="390.40" font-size="7.5" text-anchor="middle" textLength="50.40" lengthAdjust="spacingAndGlyphs">Rapamycin (nM)</text>
<path d="M267.70 395.30H304.20" stroke="#1e1e1e" stroke-width="1.0" fill="none"/>
<text x="250.60" y="495.00" font-size="7.5" text-anchor="middle" textLength="29.40" lengthAdjust="spacingAndGlyphs">SUP-M2</text>
<text x="305.00" y="495.00" font-size="7.5" text-anchor="middle" textLength="38.00" lengthAdjust="spacingAndGlyphs">Karpas 299</text>
<rect x="240.60" y="510.20" width="6.00" height="6.00" fill="#c50a2a"/>
<text x="250.20" y="515.80" font-size="7.5" textLength="22.00" lengthAdjust="spacingAndGlyphs">DMSO</text>
<rect x="278.20" y="510.20" width="6.00" height="6.00" fill="#0b4a86"/>
<text x="287.80" y="515.80" font-size="7.5" textLength="4.00" lengthAdjust="spacingAndGlyphs">5</text>
<rect x="298.40" y="510.20" width="6.00" height="6.00" fill="#38aa35"/>
<text x="308.00" y="515.80" font-size="7.5" textLength="7.60" lengthAdjust="spacingAndGlyphs">10</text>
<path d="M222.80 561.20V637.07" stroke="#1e1e1e" stroke-width="1.35" fill="none"/>
<path d="M222.12 636.40H333.40" stroke="#1e1e1e" stroke-width="1.35" fill="none"/>
<path d="M219.70 563.50H222.80" stroke="#1e1e1e" stroke-width="1.1475" fill="none"/>
<text x="215.70" y="566.20" font-size="7.5" text-anchor="end" textLength="15.40" lengthAdjust="spacingAndGlyphs">0.10</text>
<path d="M219.70 578.08H222.80" stroke="#1e1e1e" stroke-width="1.1475" fill="none"/>
<text x="215.70" y="580.78" font-size="7.5" text-anchor="end" textLength="15.40" lengthAdjust="spacingAndGlyphs">0.08</text>
<path d="M219.70 592.66H222.80" stroke="#1e1e1e" stroke-width="1.1475" fill="none"/>
<text x="215.70" y="595.36" font-size="7.5" text-anchor="end" textLength="15.40" lengthAdjust="spacingAndGlyphs">0.06</text>
<path d="M219.70 607.24H222.80" stroke="#1e1e1e" stroke-width="1.1475" fill="none"/>
<text x="215.70" y="609.94" font-size="7.5" text-anchor="end" textLength="15.40" lengthAdjust="spacingAndGlyphs">0.04</text>
<path d="M219.70 621.82H222.80" stroke="#1e1e1e" stroke-width="1.1475" fill="none"/>
<text x="215.70" y="624.52" font-size="7.5" text-anchor="end" textLength="15.40" lengthAdjust="spacingAndGlyphs">0.02</text>
<path d="M219.70 636.40H222.80" stroke="#1e1e1e" stroke-width="1.1475" fill="none"/>
<text x="215.70" y="639.10" font-size="7.5" text-anchor="end" textLength="15.40" lengthAdjust="spacingAndGlyphs">0.00</text>
<path d="M250.20 636.40V639.20" stroke="#1e1e1e" stroke-width="1.1475" fill="none"/>
<path d="M305.20 636.40V639.20" stroke="#1e1e1e" stroke-width="1.1475" fill="none"/>
<text x="196.60" y="634.00" font-size="8.8" textLength="27.60" lengthAdjust="spacingAndGlyphs" transform="rotate(-90 196.60 634.00)" font-weight="bold" style="stroke-width:0.05px">NPM-ALK/</text>
<text x="196.60" y="605.80" font-size="8.8" textLength="22.70" lengthAdjust="spacingAndGlyphs" transform="rotate(-90 196.60 605.80)" style="stroke-width:0.3px">β-actin</text>
<text x="196.60" y="580.10" font-size="8.8" textLength="17.20" lengthAdjust="spacingAndGlyphs" transform="rotate(-90 196.60 580.10)" font-weight="bold" style="stroke-width:0.05px">mRNA</text>
<rect x="229.90" y="609.80" width="10.40" height="26.60" fill="#c50a2a"/>
<path d="M235.10 609.80V609.00" stroke="#87162a" stroke-width="1.0" fill="none"/>
<path d="M232.60 609.00H237.60" stroke="#4a1c24" stroke-width="1.0" fill="none"/>
<rect x="245.00" y="613.00" width="10.40" height="23.40" fill="#0b4a86"/>
<path d="M250.20 613.00V612.40" stroke="#173d61" stroke-width="1.0" fill="none"/>
<path d="M247.70 612.40H252.70" stroke="#1c2c3b" stroke-width="1.0" fill="none"/>
<rect x="260.00" y="616.50" width="10.40" height="19.90" fill="#38aa35"/>
<path d="M265.20 616.50V615.20" stroke="#327630" stroke-width="1.0" fill="none"/>
<path d="M262.70 615.20H267.70" stroke="#274426" stroke-width="1.0" fill="none"/>
<rect x="284.90" y="579.70" width="10.50" height="56.70" fill="#c50a2a"/>
<path d="M290.15 579.70V579.00" stroke="#87162a" stroke-width="1.0" fill="none"/>
<path d="M287.65 579.00H292.65" stroke="#4a1c24" stroke-width="1.0" fill="none"/>
<rect x="299.90" y="584.10" width="10.50" height="52.30" fill="#0b4a86"/>
<path d="M305.15 584.10V583.80" stroke="#173d61" stroke-width="1.0" fill="none"/>
<path d="M302.65 583.80H307.65" stroke="#1c2c3b" stroke-width="1.0" fill="none"/>
<rect x="315.00" y="594.20" width="10.50" height="42.20" fill="#38aa35"/>
<path d="M320.25 594.20V588.40" stroke="#327630" stroke-width="1.0" fill="none"/>
<path d="M317.75 588.40H322.75" stroke="#274426" stroke-width="1.0" fill="none"/>
<path d="M235.00 608.40V593.80H265.40V614.20" stroke="#38383a" stroke-width="1.0" fill="none"/>
<path d="M235.00 602.00H250.30V611.70" stroke="#38383a" stroke-width="1.0" fill="none"/>
<path d="M289.70 578.70V563.70H320.20V587.00" stroke="#38383a" stroke-width="1.0" fill="none"/>
<path d="M289.70 571.90H305.20V581.60" stroke="#38383a" stroke-width="1.0" fill="none"/>
<text x="249.80" y="593.00" font-size="7.5" text-anchor="middle" textLength="11.60" lengthAdjust="spacingAndGlyphs">N.S</text>
<text x="242.60" y="601.20" font-size="7.5" text-anchor="middle" textLength="11.40" lengthAdjust="spacingAndGlyphs">N.S</text>
<text x="305.05" y="563.01" font-size="6.0" text-anchor="middle" style="stroke-width:0.25px;letter-spacing:0.9px">*</text>
<text x="297.20" y="571.40" font-size="7.5" text-anchor="middle" textLength="12.40" lengthAdjust="spacingAndGlyphs">N.S.</text>
<text x="285.90" y="552.60" font-size="7.5" text-anchor="middle" textLength="50.60" lengthAdjust="spacingAndGlyphs">Rapamycin (nM)</text>
<path d="M264.60 557.50H306.20" stroke="#1e1e1e" stroke-width="1.0" fill="none"/>
<text x="250.00" y="649.60" font-size="7.5" text-anchor="middle" textLength="29.20" lengthAdjust="spacingAndGlyphs">SUP-M2</text>
<text x="305.00" y="649.60" font-size="7.5" text-anchor="middle" textLength="38.00" lengthAdjust="spacingAndGlyphs">Karpas 299</text>
<rect x="241.20" y="655.30" width="6.00" height="6.00" fill="#c50a2a"/>
<text x="250.40" y="660.90" font-size="7.5" textLength="22.00" lengthAdjust="spacingAndGlyphs">DMSO</text>
<rect x="278.40" y="655.30" width="6.00" height="6.00" fill="#0b4a86"/>
<text x="287.60" y="660.90" font-size="7.5" textLength="4.00" lengthAdjust="spacingAndGlyphs">5</text>
<rect x="298.00" y="655.30" width="6.00" height="6.00" fill="#38aa35"/>
<text x="307.20" y="660.90" font-size="7.5" textLength="7.80" lengthAdjust="spacingAndGlyphs">10</text>
<path d="M403.50 407.00V482.88" stroke="#1e1e1e" stroke-width="1.35" fill="none"/>
<path d="M402.82 482.20H513.80" stroke="#1e1e1e" stroke-width="1.35" fill="none"/>
<path d="M400.40 409.30H403.50" stroke="#1e1e1e" stroke-width="1.1475" fill="none"/>
<text x="397.10" y="412.00" font-size="7.5" text-anchor="end" textLength="24.00" lengthAdjust="spacingAndGlyphs">0.0008</text>
<path d="M400.40 427.52H403.50" stroke="#1e1e1e" stroke-width="1.1475" fill="none"/>
<text x="397.10" y="430.22" font-size="7.5" text-anchor="end" textLength="24.00" lengthAdjust="spacingAndGlyphs">0.0006</text>
<path d="M400.40 445.74H403.50" stroke="#1e1e1e" stroke-width="1.1475" fill="none"/>
<text x="397.10" y="448.44" font-size="7.5" text-anchor="end" textLength="24.00" lengthAdjust="spacingAndGlyphs">0.0004</text>
<path d="M400.40 463.96H403.50" stroke="#1e1e1e" stroke-width="1.1475" fill="none"/>
<text x="397.10" y="466.66" font-size="7.5" text-anchor="end" textLength="24.00" lengthAdjust="spacingAndGlyphs">0.0002</text>
<path d="M400.40 482.18H403.50" stroke="#1e1e1e" stroke-width="1.1475" fill="none"/>
<text x="397.10" y="484.88" font-size="7.5" text-anchor="end">0</text>
<path d="M431.00 482.20V485.00" stroke="#1e1e1e" stroke-width="1.1475" fill="none"/>
<path d="M485.80 482.20V485.00" stroke="#1e1e1e" stroke-width="1.1475" fill="none"/>
<text x="367.30" y="460.00" font-size="9.2" textLength="31.40" lengthAdjust="spacingAndGlyphs" transform="rotate(-90 367.30 460.00)" font-weight="bold" style="stroke-width:0.1px">MiR145/U6</text>
<rect x="410.30" y="462.10" width="10.40" height="20.10" fill="#c50a2a"/>
<rect x="425.70" y="454.30" width="10.40" height="27.90" fill="#0b4a86"/>
<path d="M430.90 454.30V453.40" stroke="#3e3e40" stroke-width="1.0" fill="none"/>
<path d="M428.40 453.40H433.40" stroke="#3e3e40" stroke-width="1.0" fill="none"/>
<rect x="440.80" y="433.00" width="10.40" height="49.20" fill="#38aa35"/>
<path d="M446.00 433.00V429.00" stroke="#3e3e40" stroke-width="1.0" fill="none"/>
<path d="M443.50 429.00H448.50" stroke="#3e3e40" stroke-width="1.0" fill="none"/>
<rect x="465.20" y="459.60" width="10.50" height="22.60" fill="#c50a2a"/>
<path d="M470.45 459.60V457.60" stroke="#3e3e40" stroke-width="1.0" fill="none"/>
<path d="M467.95 457.60H472.95" stroke="#3e3e40" stroke-width="1.0" fill="none"/>
<rect x="480.80" y="452.00" width="10.50" height="30.20" fill="#0b4a86"/>
<path d="M486.05 452.00V446.50" stroke="#3e3e40" stroke-width="1.0" fill="none"/>
<path d="M483.55 446.50H488.55" stroke="#3e3e40" stroke-width="1.0" fill="none"/>
<rect x="495.70" y="437.80" width="10.50" height="44.40" fill="#38aa35"/>
<path d="M500.95 437.80V431.60" stroke="#3e3e40" stroke-width="1.0" fill="none"/>
<path d="M498.45 431.60H503.45" stroke="#3e3e40" stroke-width="1.0" fill="none"/>
<path d="M416.00 459.80V423.80H445.80V428.50" stroke="#38383a" stroke-width="1.0" fill="none"/>
<path d="M416.00 429.00H431.00V451.40" stroke="#38383a" stroke-width="1.0" fill="none"/>
<path d="M470.50 457.20V421.30H501.00V431.00" stroke="#38383a" stroke-width="1.0" fill="none"/>
<path d="M470.50 426.70H486.00V445.60" stroke="#38383a" stroke-width="1.0" fill="none"/>
<text x="431.25" y="423.21" font-size="6.0" text-anchor="middle" style="stroke-width:0.25px;letter-spacing:0.9px">**</text>
<text x="424.05" y="429.71" font-size="6.0" text-anchor="middle" style="stroke-width:0.25px;letter-spacing:0.9px">**</text>
<text x="486.25" y="420.31" font-size="6.0" text-anchor="middle" style="stroke-width:0.25px;letter-spacing:0.9px">*</text>
<text x="478.85" y="426.91" font-size="6.0" text-anchor="middle" style="stroke-width:0.25px;letter-spacing:0.9px">*</text>
<text x="460.00" y="389.90" font-size="7.5" text-anchor="middle" textLength="50.00" lengthAdjust="spacingAndGlyphs">Rapamycin (nM)</text>
<path d="M441.60 394.60H478.50" stroke="#1e1e1e" stroke-width="1.0" fill="none"/>
<text x="431.00" y="495.00" font-size="7.5" text-anchor="middle" textLength="29.20" lengthAdjust="spacingAndGlyphs">SUP-M2</text>
<text x="485.80" y="495.00" font-size="7.5" text-anchor="middle" textLength="38.00" lengthAdjust="spacingAndGlyphs">Karpas 299</text>
<rect x="422.00" y="510.30" width="6.00" height="6.00" fill="#c50a2a"/>
<text x="431.20" y="515.90" font-size="7.5" textLength="22.00" lengthAdjust="spacingAndGlyphs">DMSO</text>
<rect x="459.50" y="510.30" width="6.00" height="6.00" fill="#0b4a86"/>
<text x="468.70" y="515.90" font-size="7.5" textLength="4.00" lengthAdjust="spacingAndGlyphs">5</text>
<rect x="478.40" y="510.30" width="6.00" height="6.00" fill="#38aa35"/>
<text x="487.60" y="515.90" font-size="7.5" textLength="7.40" lengthAdjust="spacingAndGlyphs">10</text>
<text x="404.60" y="553.90" font-size="7.5" text-anchor="middle" textLength="49.40" lengthAdjust="spacingAndGlyphs">Rapamycin (nM)</text>
<path d="M381.00 558.50H427.80" stroke="#1e1e1e" stroke-width="1.0" fill="none"/>
<text x="354.00" y="569.20" font-size="7.5" textLength="23.60" lengthAdjust="spacingAndGlyphs">DMSO</text>
<text x="393.60" y="569.20" font-size="7.5" text-anchor="middle">5</text>
<text x="418.60" y="569.20" font-size="7.5" text-anchor="middle" textLength="8.00" lengthAdjust="spacingAndGlyphs">10</text>
<text x="431.70" y="569.20" font-size="7.5" textLength="10.20" lengthAdjust="spacingAndGlyphs">IB:</text>
<text x="429.50" y="580.80" font-size="7.5" textLength="26.80" lengthAdjust="spacingAndGlyphs">GOLM1</text>
<text x="429.00" y="598.60" font-size="7.5" textLength="24.00" lengthAdjust="spacingAndGlyphs">β-actin</text>
<g clip-path="url(#c11)"><rect x="355.00" y="572.20" width="71.40" height="13.00" fill="#d9d9d9"/>
<rect x="354.00" y="573.00" width="24.00" height="11.00" rx="5.50" fill="#777" opacity="0.55" filter="url(#b2)"/>
<rect x="358.00" y="575.15" width="16.40" height="4.90" rx="2.45" fill="#0a0a0a" opacity="1" filter="url(#b1)"/>
<rect x="381.00" y="576.60" width="14.40" height="6.00" rx="3.00" fill="#555" opacity="0.4" filter="url(#b2)"/>
<rect x="404.00" y="577.10" width="17.00" height="5.00" rx="2.50" fill="#555" opacity="0.12" filter="url(#b2)"/>
</g>
<rect x="355.00" y="572.20" width="71.40" height="13.00" fill="none" stroke="#161616" stroke-width="1.3"/>
<g clip-path="url(#c12)"><rect x="355.00" y="591.40" width="71.40" height="9.40" fill="#cecece"/>
<rect x="357.60" y="594.10" width="16.40" height="4.00" rx="2.00" fill="#0c0c0c" opacity="1" filter="url(#b0)"/>
<rect x="380.60" y="594.10" width="17.60" height="4.00" rx="2.00" fill="#0c0c0c" opacity="1" filter="url(#b0)"/>
<rect x="405.60" y="594.10" width="17.00" height="4.00" rx="2.00" fill="#0c0c0c" opacity="1" filter="url(#b0)"/>
</g>
<rect x="355.00" y="591.40" width="71.40" height="9.40" fill="none" stroke="#161616" stroke-width="1.3"/>
<text x="390.80" y="612.30" font-size="9.0" text-anchor="middle" textLength="24.00" lengthAdjust="spacingAndGlyphs" font-weight="bold">SUP-M2</text>
<rect x="0.5" y="0.5" width="519" height="668" fill="none" stroke="#646464" stroke-width="1"/>
</svg>
</body></html>
